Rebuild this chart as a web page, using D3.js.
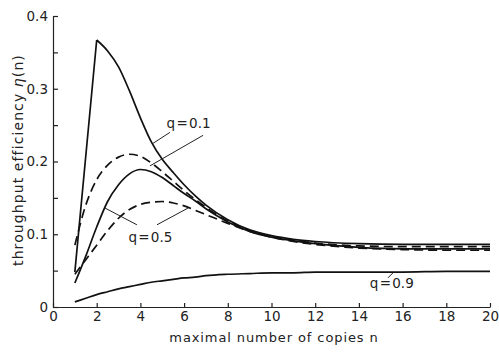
<!DOCTYPE html>
<html>
<head>
<meta charset="utf-8">
<script src="https://cdn.jsdelivr.net/npm/d3@7"></script>
<style>
  body { margin: 0; background: #fff; }
  svg text { font-family: "DejaVu Sans", sans-serif; fill: #222; }
</style>
</head>
<body>
<div id="chart"></div>
<script>
// n values (maximal number of copies)
var nGrid = [1, 1.5, 2, 2.5, 3, 3.5, 4, 4.5, 5, 5.5, 6, 6.5, 7, 8, 9, 10, 11, 12, 14, 16, 18, 20];

// throughput efficiency
var q01Solid  = [0.048, 0.2075, 0.367, 0.352, 0.330, 0.297, 0.260, 0.227, 0.203, 0.185, 0.168, 0.153, 0.140, 0.120, 0.106, 0.098, 0.093, 0.090, 0.087, 0.086, 0.086, 0.086];
var q01Dashed = [0.085, 0.140, 0.175, 0.195, 0.206, 0.210, 0.207, 0.198, 0.186, 0.173, 0.160, 0.148, 0.137, 0.118, 0.105, 0.097, 0.092, 0.088, 0.084, 0.083, 0.083, 0.083];
var q05Solid  = [0.033, 0.070, 0.110, 0.145, 0.168, 0.183, 0.189, 0.186, 0.178, 0.167, 0.156, 0.146, 0.135, 0.117, 0.104, 0.096, 0.091, 0.087, 0.082, 0.080, 0.080, 0.080];
var q05Dashed = [0.045, 0.065, 0.085, 0.105, 0.122, 0.134, 0.141, 0.144, 0.145, 0.143, 0.139, 0.133, 0.127, 0.115, 0.104, 0.096, 0.090, 0.086, 0.081, 0.079, 0.078, 0.078];
var q09Solid  = [0.007, 0.012, 0.017, 0.021, 0.025, 0.028, 0.031, 0.034, 0.036, 0.038, 0.040, 0.041, 0.043, 0.045, 0.046, 0.047, 0.047, 0.048, 0.048, 0.048, 0.049, 0.049];

var xTicks = [0, 2, 4, 6, 8, 10, 12, 14, 16, 18, 20];
var yTicks = [0, 0.05, 0.1, 0.15, 0.2, 0.25, 0.3, 0.35, 0.4];

var width = 499, height = 352;
var svg = d3.select("#chart").append("svg")
    .attr("width", width)
    .attr("height", height);

var x = d3.scaleLinear().domain([0, 20]).range([53, 490]);
var y = d3.scaleLinear().domain([0, 0.4]).range([307, 16]);

// axes
var xAxis = d3.axisBottom(x)
    .tickValues(xTicks)
    .tickSizeInner(-4)
    .tickSizeOuter(0)
    .tickPadding(4)
    .tickFormat(d3.format("d"));

var yAxis = d3.axisLeft(y)
    .tickValues(yTicks)
    .tickSizeInner(-5)
    .tickSizeOuter(0)
    .tickPadding(5)
    .tickFormat(function(d) {
        if (d === 0) return "0";
        return Math.round(d * 100) % 10 === 0 ? d3.format(".1f")(d) : "";
    });

var gx = svg.append("g")
    .attr("transform", "translate(0," + y(0) + ")")
    .call(xAxis);
var gy = svg.append("g")
    .attr("transform", "translate(" + x(0) + ",0)")
    .call(yAxis);

[gx, gy].forEach(function(g) {
    g.select(".domain").attr("stroke", "#222").attr("stroke-width", 1.2);
    g.selectAll(".tick line").attr("stroke", "#222").attr("stroke-width", 1.2);
    g.selectAll(".tick text")
        .style("font-size", "13.5px")
        .style("font-family", "DejaVu Sans, sans-serif")
        .attr("fill", "#222");
});

// axis titles
svg.append("text")
    .attr("x", 274)
    .attr("y", 342)
    .attr("text-anchor", "middle")
    .style("font-size", "13px")
    .style("letter-spacing", "0.9px")
    .text("maximal number of copies n");

var yTitle = svg.append("text")
    .attr("transform", "translate(23,160) rotate(-90)")
    .attr("text-anchor", "middle")
    .style("font-size", "14px")
    .style("letter-spacing", "1.1px");
yTitle.append("tspan").text("throughput efficiency ");
yTitle.append("tspan").style("font-style", "italic").text("\u03b7");
yTitle.append("tspan").text("(n)");

// curves
var smooth = d3.line()
    .x(function(d) { return x(d[0]); })
    .y(function(d) { return y(d[1]); })
    .curve(d3.curveMonotoneX);
var straight = d3.line()
    .x(function(d) { return x(d[0]); })
    .y(function(d) { return y(d[1]); });

function pts(vals) { return nGrid.map(function(n, i) { return [n, vals[i]]; }); }

var series = [
    { vals: q01Solid,  dash: null, sharpPeak: true },
    { vals: q01Dashed, dash: "9,5" },
    { vals: q05Solid,  dash: null },
    { vals: q05Dashed, dash: "9,5" },
    { vals: q09Solid,  dash: null }
];

series.forEach(function(s) {
    var p = pts(s.vals);
    var d;
    if (s.sharpPeak) {
        // straight rise to the peak at n=2, smooth decay after it
        d = straight([p[0], p[2]]) + smooth(p.slice(2));
    } else {
        d = smooth(p);
    }
    svg.append("path")
        .attr("d", d)
        .attr("fill", "none")
        .attr("stroke", "#111")
        .attr("stroke-width", 1.7)
        .attr("stroke-dasharray", s.dash);
});

// labels with leader lines (data coordinates)
var labels = [
    { text: "q = 0.1", n: 5.2, v: 0.252, leaders: [[[5.35, 0.240], [4.58, 0.225]], [[6.87, 0.236], [4.44, 0.194]]] },
    { text: "q = 0.5", n: 3.45, v: 0.096, leaders: [[[3.84, 0.113], [2.38, 0.136]], [[4.76, 0.113], [6.18, 0.136]]] },
    { text: "q = 0.9", n: 14.5, v: 0.033, leaders: [[[15.56, 0.047], [15.33, 0.040]]] }
];

labels.forEach(function(l) {
    l.leaders.forEach(function(seg) {
        svg.append("line")
            .attr("x1", x(seg[0][0])).attr("y1", y(seg[0][1]))
            .attr("x2", x(seg[1][0])).attr("y2", y(seg[1][1]))
            .attr("stroke", "#222")
            .attr("stroke-width", 1);
    });
    svg.append("text")
        .attr("x", x(l.n))
        .attr("y", y(l.v))
        .attr("dy", "0.35em")
        .style("font-size", "13.5px")
        .style("word-spacing", "-3px")
        .text(l.text);
});
</script>
</body>
</html>
